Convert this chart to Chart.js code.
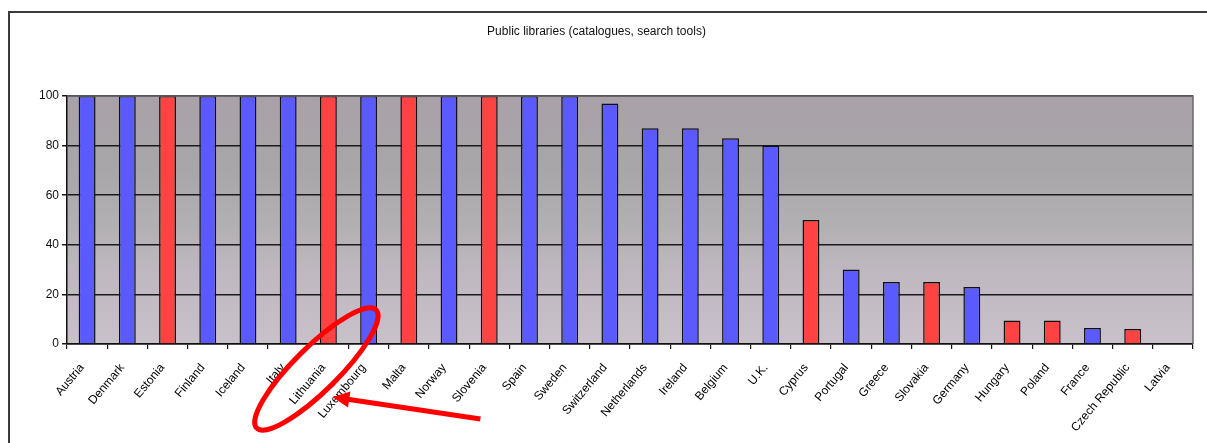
<!DOCTYPE html>
<html>
<head>
<meta charset="utf-8">
<title>Public libraries (catalogues, search tools)</title>
<script src="https://cdn.jsdelivr.net/npm/chart.js@4.4.1/dist/chart.umd.min.js"></script>
<style>
    html, body { margin: 0; padding: 0; background: #fff; }
    #wrap { width: 1207px; height: 443px; position: relative; }
</style>
</head>
<body>
<div id="wrap"><canvas id="libChart"></canvas></div>
<script>
// Countries, in the order shown
const countries = ['Austria', 'Denmark', 'Estonia', 'Finland', 'Iceland', 'Italy', 'Lithuania', 'Luxembourg',
    'Malta', 'Norway', 'Slovenia', 'Spain', 'Sweden', 'Switzerland', 'Netherlands', 'Ireland', 'Belgium',
    'U.K.', 'Cyprus', 'Portugal', 'Greece', 'Slovakia', 'Germany', 'Hungary', 'Poland', 'France',
    'Czech Republic', 'Latvia'];

// Percentage of public libraries with online catalogues / search tools
const values = [100, 100, 100, 100, 100, 100, 100, 100,
    100, 100, 100, 100, 100, 97, 87, 87, 83,
    80, 50, 30, 25, 25, 23, 9.5, 9.5, 6.5,
    6, 0];

// Countries drawn in red (new member states)
const newMembers = ['Estonia', 'Lithuania', 'Malta', 'Slovenia', 'Cyprus', 'Slovakia', 'Hungary', 'Poland',
    'Czech Republic', 'Latvia'];

const yTicks = [0, 20, 40, 60, 80, 100];

const BLUE = '#5a5aff';
const RED = '#ff4242';

document.addEventListener('DOMContentLoaded', function() {
    const ctx = document.getElementById('libChart').getContext('2d');

    // plot background gradient + frame + annotation
    const decorations = {
        id: 'decorations',
        beforeDraw(chart) {
            const c = chart.ctx;
            const a = chart.chartArea;
            c.save();
            const g = c.createLinearGradient(0, a.top, 0, a.bottom);
            g.addColorStop(0, '#a9a1a9');
            g.addColorStop(0.3, '#a8a6a8');
            g.addColorStop(0.5, '#b1afb1');
            g.addColorStop(0.72, '#c0b8c1');
            g.addColorStop(1, '#c9c1ca');
            c.fillStyle = g;
            c.fillRect(a.left, a.top, a.right - a.left, a.bottom - a.top);

            // outer frame (top and left)
            c.strokeStyle = '#3a3a3a';
            c.lineWidth = 2;
            c.beginPath();
            c.moveTo(9, chart.height);
            c.lineTo(9, 12);
            c.lineTo(chart.width, 12);
            c.stroke();
            c.restore();
        },
        afterDraw(chart) {
            const c = chart.ctx;
            const a = chart.chartArea;
            const x = chart.scales.x;
            c.save();
            // plot border right/top
            c.strokeStyle = '#6a6a6a';
            c.lineWidth = 1.5;
            c.beginPath();
            c.moveTo(a.left, a.top);
            c.lineTo(a.right, a.top);
            c.lineTo(a.right, a.bottom);
            c.stroke();

            // red ellipse around the Lithuania label and arrow
            const lx = x.getPixelForValue(countries.indexOf('Lithuania'));
            c.strokeStyle = '#ff0000';
            c.fillStyle = '#ff0000';
            c.lineWidth = 5;
            c.beginPath();
            c.ellipse(lx - 12, a.bottom + 25, 84, 22, -0.78, 0, Math.PI * 2);
            c.stroke();

            const tipX = lx + 4, tipY = a.bottom + 53;
            const endX = lx + 152, endY = a.bottom + 75;
            const ang = Math.atan2(tipY - endY, tipX - endX);
            c.lineWidth = 5;
            c.beginPath();
            c.moveTo(endX, endY);
            c.lineTo(tipX + Math.cos(ang) * -12, tipY + Math.sin(ang) * -12);
            c.stroke();
            c.beginPath();
            c.moveTo(tipX, tipY);
            c.lineTo(tipX - 17 * Math.cos(ang) + 8 * Math.sin(ang), tipY - 17 * Math.sin(ang) - 8 * Math.cos(ang));
            c.lineTo(tipX - 17 * Math.cos(ang) - 8 * Math.sin(ang), tipY - 17 * Math.sin(ang) + 8 * Math.cos(ang));
            c.closePath();
            c.fill();
            c.restore();
        }
    };

    new Chart(ctx, {
        type: 'bar',
        data: {
            labels: countries,
            datasets: [{
                data: values,
                backgroundColor: countries.map(n => newMembers.includes(n) ? RED : BLUE),
                borderColor: '#111',
                borderWidth: 1.5,
                borderSkipped: 'bottom',
                barPercentage: 0.42,
                categoryPercentage: 1
            }]
        },
        options: {
            responsive: true,
            maintainAspectRatio: false,
            animation: false,
            layout: { padding: { left: 0, right: 14, top: 0, bottom: 0 } },
            plugins: {
                legend: { display: false },
                tooltip: { enabled: false },
                title: {
                    display: true,
                    text: 'Public libraries (catalogues, search tools)',
                    color: '#111',
                    font: { family: 'Liberation Sans, Arial, sans-serif', size: 12, weight: 'normal', lineHeight: 1.2 },
                    padding: { top: 24, bottom: 57.6 }
                }
            },
            scales: {
                x: {
                    offset: true,
                    afterFit(scale) { scale.height = 99; },
                    grid: {
                        offset: true,
                        drawOnChartArea: false,
                        drawTicks: true,
                        tickLength: 5,
                        color: '#111',
                        lineWidth: 1.2
                    },
                    border: { display: true, color: '#111', width: 1.5 },
                    ticks: {
                        color: '#000',
                        autoSkip: false,
                        maxRotation: 50,
                        minRotation: 50,
                        padding: 12,
                        labelOffset: -5,
                        font: { family: 'Liberation Sans, Arial, sans-serif', size: 12 }
                    }
                },
                y: {
                    min: 0,
                    max: 100,
                    afterFit(scale) { scale.width = 67; },
                    afterBuildTicks(scale) { scale.ticks = yTicks.map(v => ({ value: v })); },
                    grid: {
                        color: '#1a1a1a',
                        lineWidth: 1.5,
                        tickLength: 5,
                        drawTicks: true
                    },
                    border: { display: true, color: '#111', width: 1.5 },
                    ticks: {
                        color: '#111',
                        padding: 3,
                        font: { family: 'Liberation Sans, Arial, sans-serif', size: 12 }
                    }
                }
            }
        },
        plugins: [decorations]
    });
});
</script>
</body>
</html>
